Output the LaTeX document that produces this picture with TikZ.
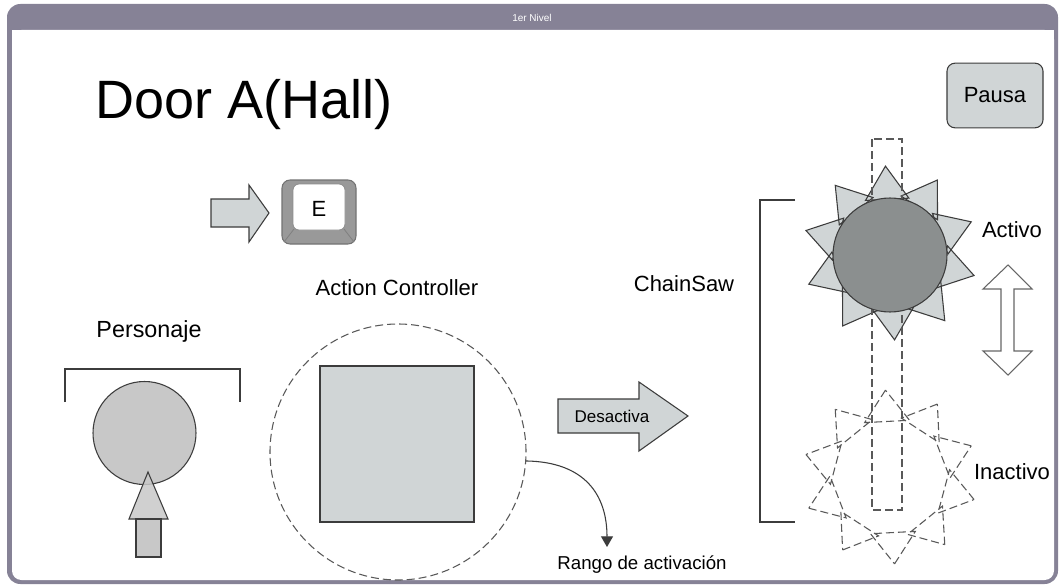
\documentclass[tikz,border=0pt]{standalone}
\usepackage{fontspec}
\setmainfont{Liberation Sans}
\usetikzlibrary{arrows.meta}

\definecolor{marco}{RGB}{134,130,150}
\definecolor{relleno}{RGB}{208,213,214}
\definecolor{cuerpo}{RGB}{200,200,200}
\definecolor{sierra}{RGB}{139,143,143}
\definecolor{trazo}{RGB}{60,60,60}

\tikzset{
	etiqueta/.style={font=\fontsize{16.5}{18}\selectfont, inner sep=0pt},
	figura/.style={draw=trazo, line width=0.8pt},
	punteado/.style={draw=trazo!85, line width=0.8pt, dash pattern=on 6pt off 3pt},
}

\begin{document}
\begin{tikzpicture}[x=0.75pt,y=-0.75pt]
	\useasboundingbox (0,0) rectangle (1060,585);
	% window frame and title bar
	\fill[marco, rounded corners=10pt] (7,4) rectangle (1058,584);
	\fill[white, rounded corners=7pt] (12,30) rectangle (1054,580);
	\fill[white] (12,30) rectangle (1054,60);
	\node[font=\fontsize{7.5}{9}\selectfont, text=white, inner sep=0pt] (nivel) at (532,18) {1er Nivel};

	% title and pause button
	\node[font=\fontsize{40.5}{44}\selectfont, anchor=base west, inner sep=0pt] (titulo) at (95,118) {Door A(Hall)};
	\node[figura, fill=relleno, rounded corners=6pt, minimum width=72pt, minimum height=48.5pt,
		font=\fontsize{16.5}{18}\selectfont] (pausa) at (995,95.5) {Pausa};

	% press E
	\filldraw[figura, fill=relleno] (211,199) -- (249,199) -- (249,185) -- (269,213) -- (249,242) -- (249,227) -- (211,227) -- cycle;
	\filldraw[draw=black!55, line width=0.8pt, fill=black!40, rounded corners=6pt] (282,180) rectangle (356,244);
	\filldraw[draw=black!45, line width=0.6pt, fill=white, rounded corners=4.5pt] (293,184) rectangle (345,230);
	\draw[black!50, line width=0.6pt] (294,229) -- (284,242) (344,229) -- (354,242);
	\node[etiqueta] (tecla) at (319,209) {E};

	% player
	\node[etiqueta, font=\fontsize{17.5}{19}\selectfont] (personaje) at (149,331) {Personaje};
	\draw[figura] (65,402) -- (65,369) -- (240,369) -- (240,402);
	\filldraw[figura, fill=cuerpo] (144.5,433) circle (51.5);
	\filldraw[figura, fill=cuerpo, fill opacity=0.85] (148,472) -- (168,519) -- (129,519) -- cycle;
	\filldraw[figura, fill=cuerpo] (136,519) rectangle (161,557);

	% action controller and its range
	\node[etiqueta] (controlador) at (397,288) {Action Controller};
	\node[circle, punteado, minimum size=192pt, inner sep=0pt] (alcance) at (398,452) {};
	\filldraw[figura, fill=relleno] (320,366) rectangle (474,522);
	\node[etiqueta, font=\fontsize{14}{16}\selectfont] (rango) at (642,565) {Rango de activación};
	\coordinate (punta) at (607,547);
	\draw[figura, -{Triangle[width=9pt,length=8pt]}] (alcance.-4.5) .. controls (585,462) and (607,495) .. (punta);

	% deactivate arrow
	\filldraw[figura, fill=relleno] (558,399) -- (639,399) -- (639,382) -- (688,416) -- (639,451) -- (639,433) -- (558,433) -- cycle;
	\node[font=\fontsize{12.75}{14}\selectfont, inner sep=0pt] (desactiva) at (612,416) {Desactiva};

	% chainsaw states, ten teeth around the blade
	\node[etiqueta] (sierralbl) at (684,284) {ChainSaw};
	\draw[figura] (795,200) -- (760,200) -- (760,522) -- (795,522);
	\begin{scope}[shift={(890,253)}]
		\filldraw[figura, fill=relleno] \foreach \k in {0,...,9} {
			({-93+36*\k}:87) -- ({-115+36*\k}:58) -- ({-71+36*\k}:58) -- cycle };
	\end{scope}
	\draw[punteado] (872,139) rectangle (902,510);
	\filldraw[figura, fill=sierra] (890,255) circle (57);
	\begin{scope}[shift={(890,477)}]
		\draw[punteado] \foreach \k in {0,...,9} {
			({-93+36*\k}:87) -- ({-115+36*\k}:60) -- ({-71+36*\k}:60) -- cycle };
	\end{scope}
	\node[etiqueta] (activo) at (1012,230) {Activo};
	\node[etiqueta] (inactivo) at (1012,472) {Inactivo};

	% switching between states
	\filldraw[draw=black!60, line width=0.8pt, fill=white] (1008,265) -- (1032,289) -- (1014,289) -- (1014,351) -- (1032,351)
		-- (1008,375) -- (983,351) -- (1001,351) -- (1001,289) -- (983,289) -- cycle;
\end{tikzpicture}
\end{document}
